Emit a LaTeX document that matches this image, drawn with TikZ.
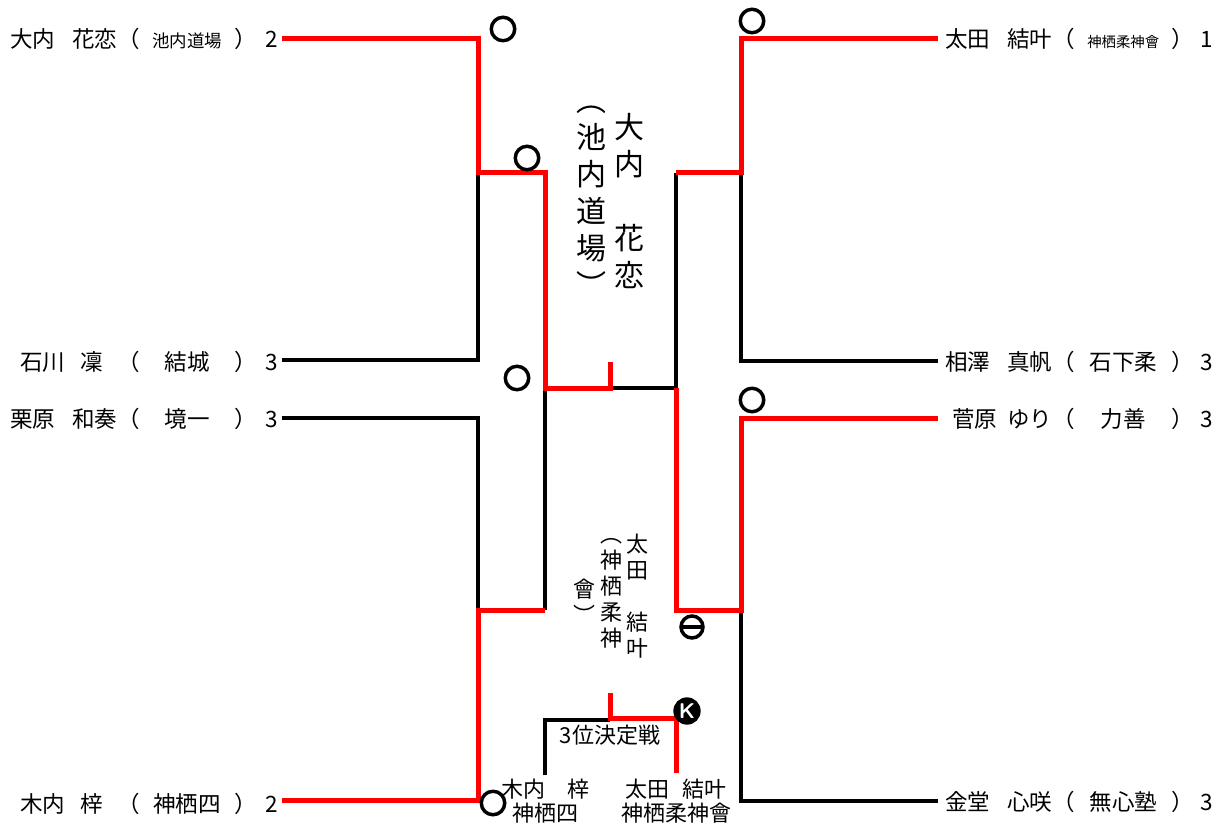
\documentclass[tikz,border=0pt]{standalone}
\usepackage{fontspec}
\setmainfont{Noto Sans CJK JP}
\newdimen\PX \PX=0.75pt
\newcommand\lent[3]{\makebox[107\PX][l]{#1}\makebox[22.5\PX][c]{（}\makebox[95\PX][c]{#2}\makebox[22.5\PX][c]{）}\hspace{8\PX}#3}
\newcommand\rent[3]{\makebox[107\PX][l]{#1}\makebox[22.5\PX][c]{（}\makebox[97\PX][c]{#2}\makebox[22.5\PX][c]{）}\hspace{6\PX}#3}
\tikzset{
  lbl/.style={anchor=west, inner sep=0pt, font=\fontsize{16.9}{18}\selectfont},
  blk/.style={draw=black, line width=2.4pt, line join=miter},
  rd/.style={draw=red, line width=3.75pt, line join=miter},
  winmark/.style={circle, draw=black, line width=2.6pt, minimum size=17.6pt, inner sep=0pt},
  vbig/.style={align=center, inner sep=0pt, font=\fontsize{22.5}{27.75}\selectfont},
  vsmall/.style={align=center, inner sep=0pt, font=\fontsize{16.5}{19.5}\selectfont},
  btxt/.style={align=center, inner sep=0pt, font=\fontsize{16.5}{18}\selectfont}
}
\begin{document}
\begin{tikzpicture}[x=0.75pt,y=-0.75pt]
\useasboundingbox (0,0) rectangle (1214,827);
% player line ends
\coordinate (L1) at (282,39);
\coordinate (L2) at (282,360);
\coordinate (L3) at (282,418);
\coordinate (L4) at (282,800);
\coordinate (R1) at (938,39);
\coordinate (R2) at (938,361);
\coordinate (R3) at (938,418);
\coordinate (R4) at (938,801);
% junctions
\coordinate (JL1) at (478,173);
\coordinate (JL2) at (478,610);
\coordinate (JR1) at (741,173);
\coordinate (JR2) at (741,610);
\coordinate (SF1) at (545,388);
\coordinate (SF2) at (545,610);
\coordinate (SF3) at (676,173);
\coordinate (SF4) at (676,388);
\coordinate (FT) at (610,362);
\coordinate (FB) at (610,388);
\coordinate (T1) at (545,775);
\coordinate (T2) at (610,720);
\coordinate (T3) at (610,693);
\coordinate (T4) at (676,718);
\coordinate (T5) at (676,773);

% labels
\node[lbl] (a1) at (10,38.5) {\lent{大内\hspace{17\PX}花恋}{\fontsize{13.1}{14}\selectfont 池内道場}{2}};
\node[lbl] (a2) at (10,362) {\lent{\hspace{10\PX}石川\hspace{15\PX}凜}{結城}{3}};
\node[lbl] (a3) at (10,419) {\lent{栗原\hspace{17\PX}和奏}{境一}{3}};
\node[lbl] (a4) at (10,804) {\lent{\hspace{10\PX}木内\hspace{15\PX}梓}{神栖四}{2}};
\node[lbl] (b1) at (945,38.5) {\rent{太田\hspace{17\PX}結叶}{\fontsize{10.8}{12}\selectfont 神栖柔神會}{1}};
\node[lbl] (b2) at (945,362) {\rent{相澤\hspace{17\PX}真帆}{石下柔}{3}};
\node[lbl] (b3) at (945,419) {\rent{\hspace{7\PX}菅原\hspace{10\PX}ゆり}{力善}{3}};
\node[lbl] (b4) at (945,802) {\rent{金堂\hspace{17\PX}心咲}{無心塾}{3}};

% black lines
\draw[blk] (L2) -| (JL1);
\draw[blk] (L3) -| (JL2);
\draw[blk] (SF1) -- (SF2);
\draw[blk] (FB) -| (SF3);
\draw[blk] (R2) -| (JR1);
\draw[blk] (R4) -| (JR2);
\draw[blk] (T1) |- (T2);

% red lines
\draw[rd] (L1) -| (JL1) -| (SF1) -| (FT);
\draw[rd] (R1) -| (JR1) -- (SF3);
\draw[rd] (L4) -| (JL2) -- (SF2);
\draw[rd] (R3) -| (JR2) -| (SF4);
\draw[rd] (T3) |- (T4) -- (T5);

% winner marks
\node[winmark] (m1) at (503,29) {};
\node[winmark] (m2) at (527,158) {};
\node[winmark] (m3) at (517,378) {};
\node[winmark] (m4) at (752,21) {};
\node[winmark] (m5) at (752,400) {};
\node[winmark] (m6) at (493,803) {};
\node[circle, draw=black, line width=2.6pt, minimum size=16.5pt, inner sep=0pt] (mminus) at (692,627) {};
\draw[line width=3pt] ([xshift=-7pt]mminus.center) -- ([xshift=7pt]mminus.center);
\node[circle, fill=black, minimum size=20.5pt, inner sep=0pt, text=white, font=\sffamily\bfseries\fontsize{16}{16}\selectfont] (mk) at (687,711) {K};

% champion (vertical)
\node[vbig] (c1) at (629,201) {大\\内\\　\\花\\恋};
\node[vbig] (c2) at (591,201) {︵\\池\\内\\道\\場\\︶};
% runner-up (vertical)
\node[vsmall] (d1) at (637,596) {太\\田\\　\\結\\叶};
\node[vsmall] (d2) at (611,593) {︵\\神\\栖\\柔\\神};
\node[vsmall] (d3) at (584,601) {會\\︶};

% third place
\node[btxt] (tp) at (610,735) {3位決定戦};
\node[btxt] (tp1) at (545,801) {木内　梓\\神栖四};
\node[btxt] (tp2) at (676,801) {太田\hspace{0.6em}結叶\\神栖柔神會};
\end{tikzpicture}
\end{document}
